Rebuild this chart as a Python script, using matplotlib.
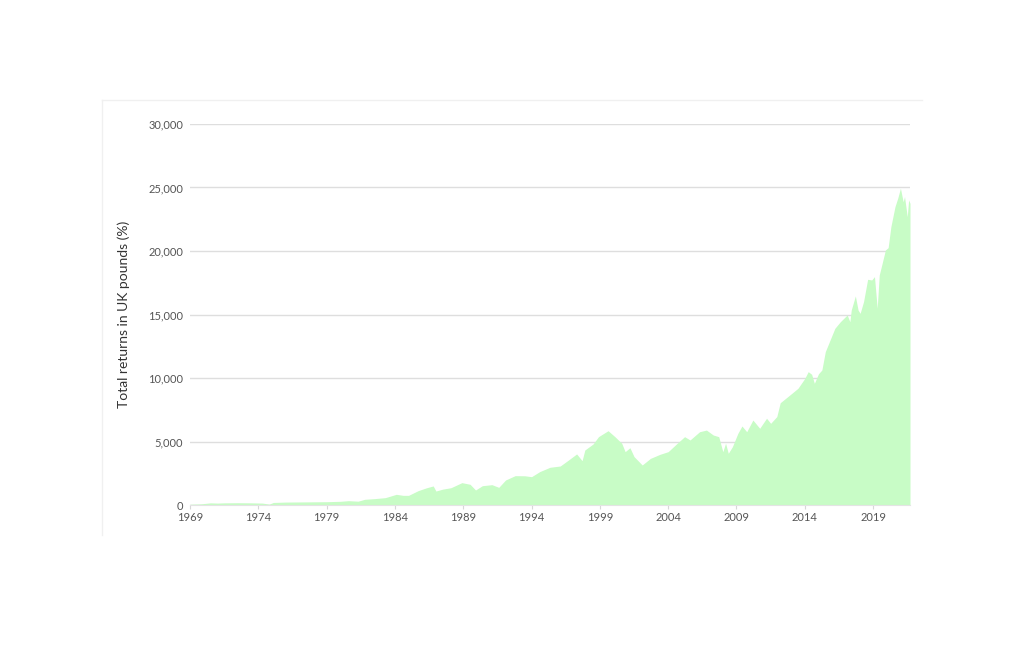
import matplotlib
matplotlib.use("Agg")
import matplotlib.pyplot as plt
from matplotlib.lines import Line2D
from matplotlib.ticker import FuncFormatter

plt.rcParams["font.family"] = ["Lato", "DejaVu Sans"]

# Values (decimal year, total return %)
YEARS = [
    1969.0, 1969.8, 1970.5, 1971.0, 1971.5, 1972.5, 1973.5, 1974.3, 1974.8, 1975.1,
    1976.0, 1977.0, 1978.0, 1979.0, 1980.0, 1980.6, 1981.3, 1981.8, 1982.5, 1983.3,
    1984.1, 1984.6, 1985.0, 1985.7, 1986.3, 1986.8, 1987.0, 1987.5, 1988.1, 1988.9,
    1989.5, 1989.9, 1990.4, 1991.1, 1991.6, 1992.1, 1992.8, 1993.5, 1994.0, 1994.6,
    1995.35, 1996.1, 1996.7, 1997.3, 1997.7, 1997.9, 1998.5, 1998.9, 1999.6, 2000.1,
    2000.6, 2000.85, 2001.2, 2001.5, 2002.1, 2002.7, 2003.4, 2004.0, 2004.6, 2005.2,
    2005.6, 2006.3, 2006.8, 2007.3, 2007.7, 2008.0, 2008.2, 2008.4, 2008.7, 2009.1,
    2009.4, 2009.75, 2010.2, 2010.7, 2011.2, 2011.5, 2011.95, 2012.2, 2012.9, 2013.5,
    2014.0, 2014.25, 2014.5, 2014.7, 2015.0, 2015.25, 2015.5, 2015.85, 2016.2, 2016.6,
    2017.1, 2017.3, 2017.4, 2017.7, 2017.9, 2018.05, 2018.3, 2018.6, 2018.9, 2019.1,
    2019.3, 2019.45, 2019.6, 2019.9, 2020.1, 2020.3, 2020.6, 2020.8, 2021.0, 2021.2,
    2021.3, 2021.5, 2021.6, 2021.7,
]
RETURNS = [
    60, 90, 170, 150, 170, 180, 170, 150, 70, 200,
    230, 240, 250, 260, 290, 340, 300, 450, 500, 580,
    840, 760, 760, 1130, 1350, 1500, 1100, 1250, 1360, 1760,
    1630, 1180, 1520, 1600, 1390, 1970, 2310, 2300, 2230, 2630,
    2970, 3070, 3540, 4020, 3490, 4330, 4800, 5380, 5850, 5380,
    4860, 4200, 4510, 3810, 3150, 3670, 3990, 4200, 4800, 5380,
    5120, 5770, 5900, 5510, 5380, 4200, 4860, 4070, 4590, 5640,
    6220, 5770, 6690, 6040, 6830, 6430, 6960, 8050, 8660, 9190,
    9970, 10500, 10290, 9580, 10330, 10630, 12070, 12990, 13910, 14430,
    14960, 14430, 15350, 16460, 15350, 15090, 16010, 17770, 17720, 17980,
    15490, 18110, 18760, 20080, 20260, 21910, 23490, 24150, 24940, 23880,
    24280, 22700, 24020, 23750,
]
YTICKS = [0, 5000, 10000, 15000, 20000, 25000, 30000]
XTICKS = [1969, 1974, 1979, 1984, 1989, 1994, 1999, 2004, 2009, 2014, 2019]

fig = plt.figure(figsize=(10.27, 6.46), dpi=100)
ax = fig.add_axes([190 / 1027, 1 - 505 / 646, 720 / 1027, 381 / 646])

ax.fill_between(YEARS, RETURNS, 0, color="#c8fcc6", linewidth=0, zorder=2)

ax.set_xlim(1969, YEARS[-1])
ax.set_ylim(0, 30000)
ax.set_yticks(YTICKS)
ax.set_xticks(XTICKS)
ax.yaxis.set_major_formatter(FuncFormatter(lambda v, p: f"{int(v):,}"))
ax.grid(axis="y", color="#dedede", linewidth=1, zorder=1)
ax.set_axisbelow(True)

for side in ["top", "right", "left"]:
    ax.spines[side].set_visible(False)
ax.spines["bottom"].set_color("#e4e4e4")
ax.tick_params(axis="y", length=0, pad=5, labelsize=8, labelcolor="#555555")
ax.tick_params(axis="x", length=3, width=0.8, color="#d8d8d8", pad=2,
               labelsize=8, labelcolor="#555555")
ax.set_ylabel("Total returns in UK pounds (%)", fontsize=10, color="#333333", labelpad=13)

# faint outer frame (top and left edges)
fig.add_artist(Line2D([102 / 1027, 922 / 1027], [1 - 100 / 646, 1 - 100 / 646],
                      color="#f0f0f0", linewidth=1, transform=fig.transFigure))
fig.add_artist(Line2D([102 / 1027, 102 / 1027], [1 - 100 / 646, 1 - 535 / 646],
                      color="#f0f0f0", linewidth=1, transform=fig.transFigure))

fig.savefig("out.png", dpi=100)
